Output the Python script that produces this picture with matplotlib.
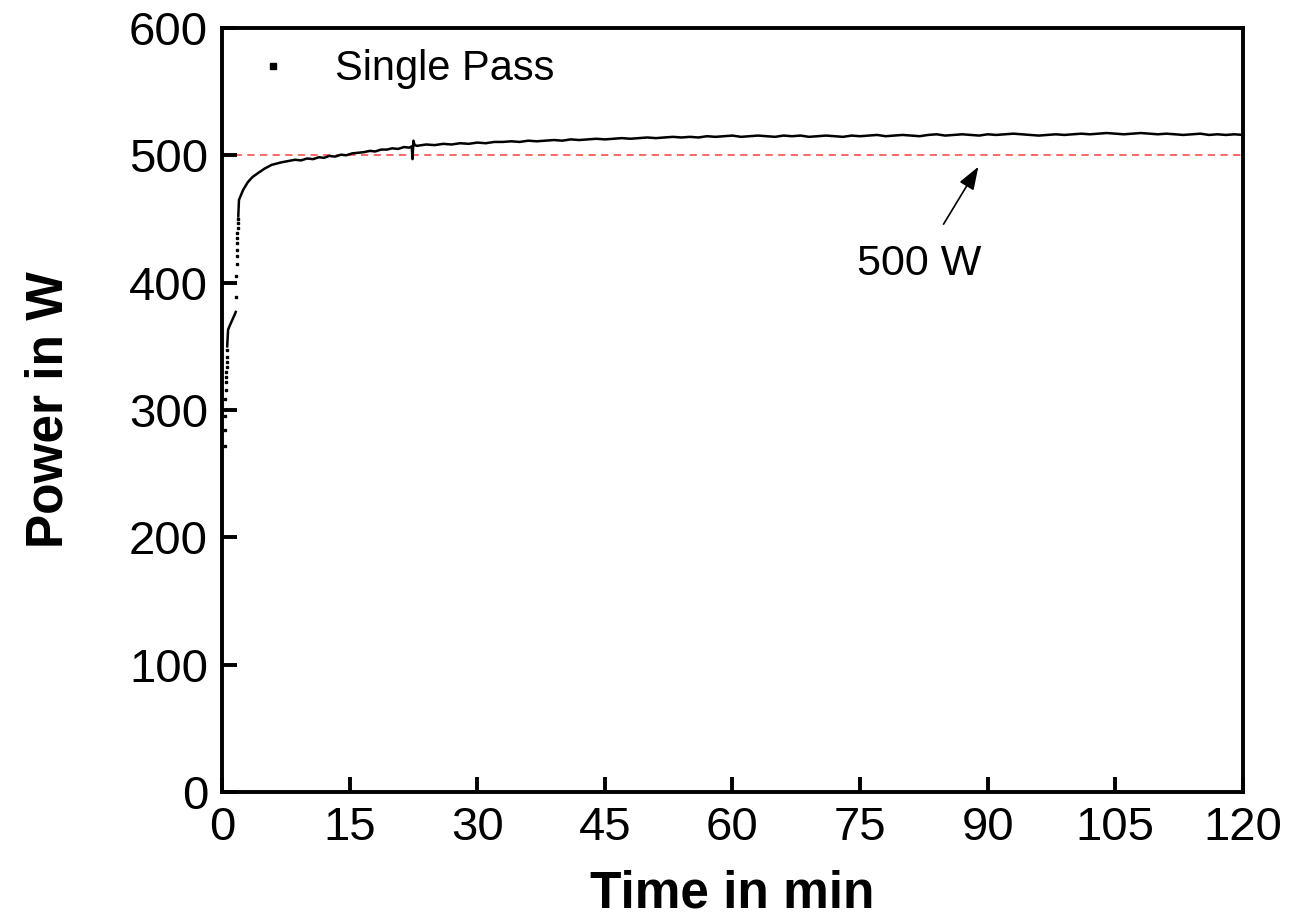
import matplotlib
matplotlib.use('Agg')
import matplotlib.pyplot as plt
from matplotlib.lines import Line2D

# DATA #################################################################################################################

# sparse sample points at switch-on (minutes, watts)
t_start = [0.30, 0.32, 0.34, 0.40, 0.44, 0.47, 0.50, 0.52, 0.54, 0.56, 0.58, 0.60]
p_start = [272, 284, 295, 309, 316, 322, 326, 330, 334, 338, 342, 347]

t_ramp = [0.62, 0.68, 0.72, 0.90, 1.10, 1.30, 1.50, 1.62]
p_ramp = [350, 358, 363, 366, 369, 372, 375, 377]

t_jump = [1.68, 1.70, 1.72, 1.74, 1.76, 1.78, 1.80, 1.82, 1.84, 1.86, 1.88]
p_jump = [389, 405, 415, 421, 426, 431, 435, 439, 443, 447, 450]

t_main = [1.92, 2.0, 2.5, 3.05, 3.6, 4.23, 5.0, 5.84, 7.0, 8.58, 9.3, 10.0, 10.7, 11.4, 12.0, 12.6, 13.3, 14.0,
          14.6, 15.3, 16.0, 16.7, 17.4, 18.0, 18.7, 19.4, 20.0, 20.7, 21.4, 22.0, 22.3, 22.4, 22.5, 22.65, 22.9,
          23.0, 24.0, 25.0, 26.0, 27.0, 28.0, 29.0, 30.0, 31.0, 32.0, 33.0, 34.0, 35.0, 36.0, 37.0, 38.0, 39.0,
          40.0, 41.0, 42.0, 43.0, 44.0, 45.0, 46.0, 47.0, 48.0, 49.0, 50.0, 51.0, 52.0, 53.0, 54.0, 55.0, 56.0,
          57.0, 58.0, 59.0, 60.0, 61.0, 62.0, 63.0, 64.0, 65.0, 66.0, 67.0, 68.0, 69.0, 70.0, 71.0, 72.0, 73.0,
          74.0, 75.0, 76.0, 77.0, 78.0, 79.0, 80.0, 81.0, 82.0, 83.0, 84.0, 85.0, 86.0, 87.0, 88.0, 89.0, 90.0,
          91.0, 92.0, 93.0, 94.0, 95.0, 96.0, 97.0, 98.0, 99.0, 100.0, 101.0, 102.0, 103.0, 104.0, 105.0, 106.0,
          107.0, 108.0, 109.0, 110.0, 111.0, 112.0, 113.0, 114.0, 115.0, 116.0, 117.0, 118.0, 119.0, 120.0]
p_main = [452, 465, 473, 479, 483, 486, 489.5, 492.5, 494.5, 496.5, 496.0, 497.5, 497.0, 498.5, 498.0, 499.5,
          499.0, 500.5, 500.0, 501.5, 502.0, 502.5, 503.5, 503.0, 504.5, 504.5, 505.5, 505.0, 506.5, 506.0,
          507.0, 497.0, 511.5, 508.0, 507.5,
          507.5, 508.5, 508.0, 509.0, 508.5, 509.5, 509.0, 510.0, 509.5, 510.5, 510.5, 511.0, 510.5, 511.5,
          511.0, 511.5, 512.0, 511.5, 512.5, 512.0, 512.5, 513.0, 512.5, 513.0, 513.5, 513.0, 513.5, 514.0,
          513.5, 514.0, 514.5, 514.0, 514.5, 514.0, 515.0, 514.5, 515.0, 515.5, 514.5, 515.0, 515.5, 515.0,
          514.5, 515.5, 515.0, 515.5, 514.5, 515.0, 515.5, 515.0, 514.5, 515.5, 515.0, 515.5, 516.0, 515.0,
          515.5, 516.0, 515.5, 515.0, 516.0, 516.5, 515.5, 516.0, 516.5, 516.0, 515.5, 516.5, 516.0, 516.5,
          517.0, 516.5, 516.0, 515.5, 516.0, 516.5, 516.0, 516.5, 517.0, 516.5, 517.0, 517.5, 517.0, 516.5,
          517.0, 517.5, 517.0, 516.5, 517.0, 516.5, 516.0, 516.5, 517.0, 516.0, 516.5, 516.0, 516.5, 516.0]

NOMINAL = 500
X_TICKS = [0, 15, 30, 45, 60, 75, 90, 105, 120]
Y_TICKS = [0, 100, 200, 300, 400, 500, 600]

########################################################################################################################

plt.rcParams['font.family'] = ['Liberation Sans', 'DejaVu Sans']

fig = plt.figure(figsize=(13.01, 9.23), dpi=100)
ax = fig.add_axes([0.1706, 0.1419, 0.7848, 0.8278])

ax.axhline(NOMINAL, color='#ff5a5a', lw=1.3, dashes=(4, 3), zorder=1)

ax.plot(t_start, p_start, 's', color='k', markersize=1.6, ls='none', zorder=3)
ax.plot(t_ramp, p_ramp, color='k', lw=1.8, zorder=3)
ax.plot(t_jump, p_jump, 's', color='k', markersize=1.6, ls='none', zorder=3)
ax.plot(t_main, p_main, color='k', lw=1.8, zorder=3)

ax.set_xlim(0, 120)
ax.set_ylim(0, 600)
ax.set_xticks(X_TICKS)
ax.set_yticks(Y_TICKS)

for s in ax.spines.values():
    s.set_linewidth(2.8)
ax.tick_params(direction='in', length=11, width=2.8, labelsize=34, pad=10, top=False, right=False)

ax.set_xlabel('Time in min', fontsize=37, fontweight='bold', labelpad=14)
ax.set_ylabel('Power in W', fontsize=37, fontweight='bold', labelpad=40)

handle = Line2D([], [], marker='s', color='k', ls='none', markersize=5)
ax.legend([handle], ['Single Pass'], loc='upper left', bbox_to_anchor=(0.001, 1.01), frameon=False,
          fontsize=30, handlelength=1.0, handletextpad=1.0, borderaxespad=0.3)

ax.annotate('500 W', xy=(88.9, 491), xytext=(82, 415), fontsize=31, ha='center', va='center',
            arrowprops=dict(arrowstyle='-|>,head_length=0.7,head_width=0.25', color='k', lw=1.2,
                            mutation_scale=20, shrinkA=14, shrinkB=0))

fig.savefig('out.png', dpi=100)
